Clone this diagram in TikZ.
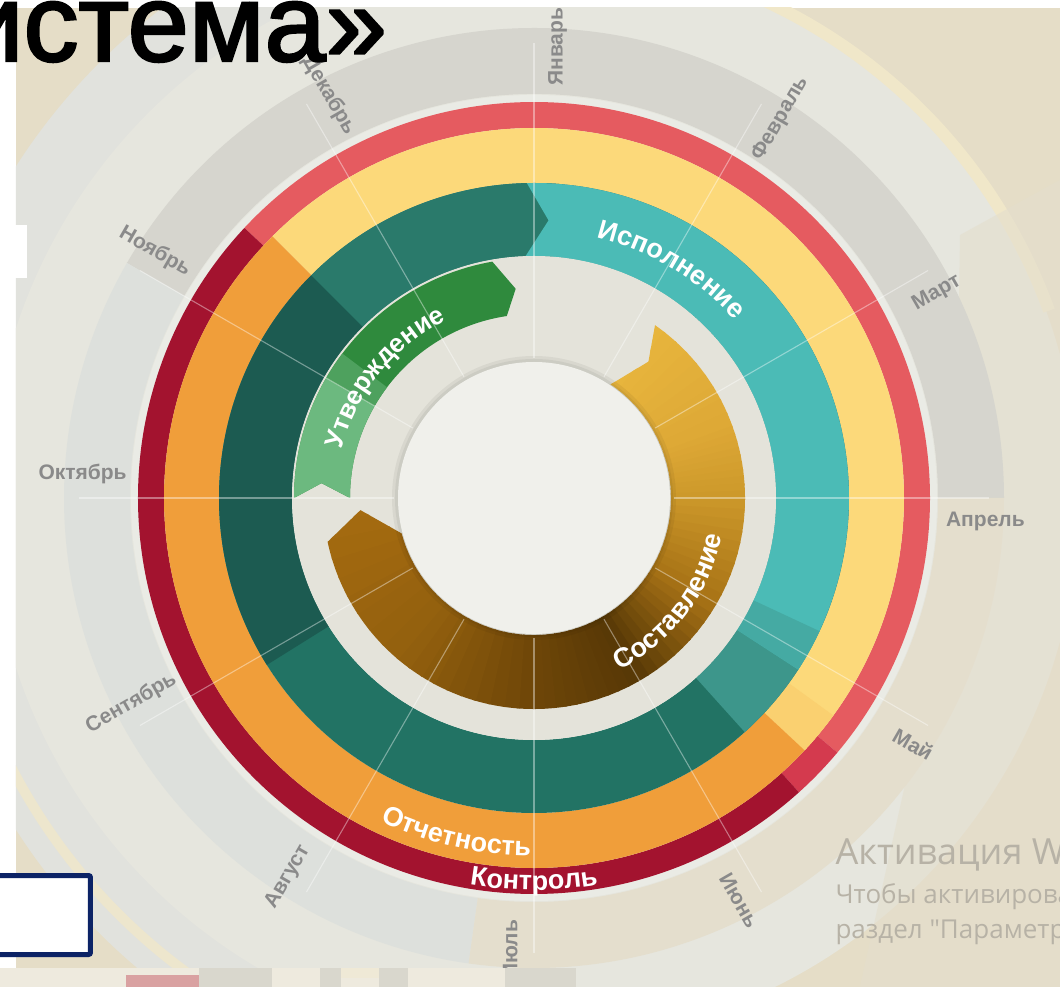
\documentclass[tikz,border=0pt]{standalone}
\usepackage{fontspec}
\setmainfont{Liberation Sans}
\newfontfamily\wmfont{Open Sans}
\newfontfamily\titlefont{Liberation Sans}[FakeBold=2.2]
\usetikzlibrary{decorations.text}

\definecolor{bgbeige}{HTML}{E5DDC7}
\definecolor{bandlight}{HTML}{E6E6DE}
\definecolor{bandgray}{HTML}{D6D5CE}
\definecolor{bandblue}{HTML}{DDE0DC}
\definecolor{bandsand}{HTML}{E4DECD}
\definecolor{gapwhite}{HTML}{EAEBE5}
\definecolor{cream}{HTML}{F0E7C9}
\definecolor{redlight}{HTML}{E55B60}
\definecolor{redmid}{HTML}{D43A4E}
\definecolor{reddark}{HTML}{A3132F}
\definecolor{ringyellow}{HTML}{FCD97A}
\definecolor{ringorange}{HTML}{F09E3A}
\definecolor{tealight}{HTML}{4BBBB6}
\definecolor{tealmid}{HTML}{3D968B}
\definecolor{tealdark}{HTML}{227364}
\definecolor{tealdeep}{HTML}{1C5B51}
\definecolor{tealtop}{HTML}{2A7A6B}
\definecolor{greendark}{HTML}{2F8A3D}
\definecolor{greenlight}{HTML}{6CB97F}
\definecolor{goldA}{HTML}{E9B73E}
\definecolor{goldB}{HTML}{DDA836}
\definecolor{goldC}{HTML}{CC982A}
\definecolor{goldD}{HTML}{A87316}
\definecolor{goldE}{HTML}{573806}
\definecolor{goldF}{HTML}{6E4608}
\definecolor{goldG}{HTML}{93600E}
\definecolor{goldH}{HTML}{A86D10}
\definecolor{discwhite}{HTML}{E4E3DA}
\definecolor{monthgray}{HTML}{8A8A8A}
\definecolor{wmgray}{HTML}{B7B2A6}
\definecolor{boxnavy}{HTML}{0C2366}
\definecolor{stripcream}{HTML}{EEEADE}
\definecolor{stripgray}{HTML}{D9D7CD}
\definecolor{strippink}{HTML}{D9A1A1}
\definecolor{stripsand}{HTML}{EFE9D6}

% ring piece: inner r, outer r, from angle, to angle, colour
\newcommand\ringpart[5]{\fill[#5] (#3:#2) arc[start angle=#3, end angle=#4, radius=#2]
  -- (#4:#1) arc[start angle=#4, end angle=#3, radius=#1] -- cycle;}

\begin{document}
\begin{tikzpicture}[x=1pt, y=1pt,
    month/.style={text=monthgray, font=\bfseries\fontsize{21}{21}\selectfont, inner sep=0pt},
    divider/.style={white, opacity=0.4, line width=1.1pt},
    arctext/.style={decorate, decoration={text along path, text align=center, text={#1}}}]
    % Page
    \useasboundingbox (-534,-489) rectangle (526,498);
    \fill[white] (-534,-489) rectangle (526,498);
    \begin{scope}
    \clip (-518,-489) rectangle (526,490);
    % Background rings
    \fill[bgbeige] (-518,-489) rectangle (526,490);
    \fill[bandblue!60!bandlight] (90:615) arc[start angle=90, end angle=270, radius=615] -- cycle;
    \fill[bandlight] (0,0) circle (545);
    \draw[cream, line width=12pt] (20:548) arc[start angle=20, end angle=84, radius=548];
    \draw[cream, line width=10pt, opacity=0.8] (198:588) arc[start angle=198, end angle=246, radius=588];
    \fill[bandsand, opacity=0.6] (426,263) -- (526,318) -- (526,-489) -- (326,-489) -- (421,-62) -- cycle;
    \ringpart{404}{470}{0}{150}{bandgray}
    \ringpart{404}{470}{150}{262}{bandblue}
    \ringpart{404}{470}{262}{360}{bandsand}
    \fill[gapwhite] (0,0) circle (403);
    % Control ring
    \ringpart{370}{396}{-40}{137}{redlight}
    \ringpart{370}{396}{-48}{-40}{redmid}
    \ringpart{370}{396}{137}{312}{reddark}
    % Reporting ring
    \ringpart{315}{370}{-43}{135}{ringyellow}
    \ringpart{315}{370}{-43}{-36}{ringyellow!85!ringorange}
    \ringpart{315}{370}{135}{317}{ringorange}
    % Execution ring
    \ringpart{242}{315}{0}{360}{tealdark}
    \ringpart{242}{315}{135}{212}{tealdeep}
    \ringpart{242}{315}{85}{135}{tealtop}
    \ringpart{242}{315}{-48}{-33}{tealmid}
    \fill[tealight] (91.3:315) arc[start angle=91.3, end angle=-33, radius=315]
      -- (-33:242) arc[start angle=-33, end angle=92, radius=242] -- (87:278) -- cycle;
    \ringpart{242}{315}{-33}{-25}{tealight!55!tealmid}
    % Inner field
    \fill[discwhite] (0,0) circle (242);
    % Approval arrow
    \begin{scope}
      \clip (180:240) arc[start angle=180, end angle=100, radius=240] -- (95:210)
        -- (98.5:184) arc[start angle=98.5, end angle=180, radius=184] -- (176:213) -- cycle;
      \fill[greendark] (0,0) circle (245);
      \ringpart{180}{245}{150}{185}{greenlight}
      \ringpart{180}{245}{143}{150}{greenlight!50!greendark}
    \end{scope}
    % Drafting arrow
    \begin{scope}
      \clip (55:211) arc[start angle=55, end angle=-168, radius=211] -- (-176:174)
        -- (-165:137) arc[start angle=-165, end angle=56, radius=137] -- (50:178) -- cycle;
      \foreach \sa/\ea/\ca/\cb in {60/20/goldA/goldB, 20/0/goldB/goldC, 0/-30/goldC/goldD,
          -30/-60/goldD/goldE, -60/-90/goldE/goldF, -90/-130/goldF/goldG, -130/-185/goldG/goldH}{
        \foreach \k in {0,...,9}{
          \pgfmathsetmacro\u{\sa+(\ea-\sa)*\k/10}
          \pgfmathsetmacro\v{\sa+(\ea-\sa)*(\k+1)/10-0.6}
          \pgfmathtruncatemacro\p{95-10*\k}
          \fill[\ca!\p!\cb] (0,0) -- (\u:230) arc[start angle=\u, end angle=\v, radius=230] -- cycle;
        }
      }
    \end{scope}
    % Centre disc
    \fill[black, opacity=0.05] (0,0) circle (142);
    \fill[black, opacity=0.05] (0,0) circle (139);
    \fill[discwhite!55!white] (0,0) circle (136);
    % Month dividers
    \foreach \a in {0,30,...,330}
      \draw[divider] (\a:140) -- (\a:455);
    % Phase names
    \path[arctext={|\color{white}\bfseries\fontsize{27}{27}\selectfont|Исполнение}]
      (86:268) arc[start angle=86, end angle=32, radius=268];
    \path[arctext={|\color{white}\bfseries\fontsize{26}{26}\selectfont|Утверждение}]
      (172:198) arc[start angle=172, end angle=110, radius=198];
    \path[arctext={|\color{white}\bfseries\fontsize{27}{27}\selectfont|Составление}]
      (-78:192) arc[start angle=-78, end angle=3, radius=192];
    \path[arctext={|\color{white}\bfseries\fontsize{27}{27}\selectfont|Отчетность}]
      (228:358) arc[start angle=228, end angle=286, radius=358];
    \path[arctext={|\color{white}\bfseries\fontsize{27}{27}\selectfont|Контроль}]
      (248:392) arc[start angle=248, end angle=292, radius=392];
    % Months
    \foreach \a/\m/\n in {90/Январь/jan, 60/Февраль/feb, 30/Март/mar, 0/Апрель/apr,
        -30/Май/may, -60/Июнь/jun, -90/Июль/jul, -120/Август/aug, -150/Сентябрь/sep,
        180/Октябрь/oct, 150/Ноябрь/nov, 120/Декабрь/dec}{
      \pgfmathsetmacro\rot{(\a>-90 && \a<=90) ? \a : \a+180}
      \node[month, rotate=\rot] (\n) at (\a-3:452) {\m};
    }
    % Watermark
    \node[anchor=base west, text=wmgray, font=\wmfont\fontsize{36}{36}\selectfont] (wm1)
      at (298,-366) {Активация Windows};
    \node[anchor=base west, text=wmgray, font=\wmfont\fontsize{26}{26}\selectfont] (wm2)
      at (298,-405) {Чтобы активировать};
    \node[anchor=base west, text=wmgray, font=\wmfont\fontsize{26}{26}\selectfont] (wm3)
      at (298,-440) {раздел \symbol{34}Параметры\symbol{34}};
    \end{scope}
    % Slide overlays
    \node[anchor=base east, inner sep=0pt, font=\titlefont\fontsize{110}{110}\selectfont] (title)
      at (-147,437) {истема»};
    \fill[white] (-534,273) rectangle (-507,220);
    \draw[boxnavy, line width=5pt, fill=white, rounded corners=2pt] (-545,-377.5) rectangle (-443.5,-456.5);
    % Bottom strip
    \fill[stripcream] (-534,-470) rectangle (42,-489);
    \fill[strippink] (-408,-477) rectangle (-283,-489);
    \fill[stripgray] (-335,-470) rectangle (-262,-489);
    \fill[stripgray] (-214,-470) rectangle (-193,-489);
    \fill[stripgray] (-155,-470) rectangle (-126,-489);
    \fill[stripsand] (-193,-470) rectangle (-155,-480);
    \fill[stripgray] (-29,-470) rectangle (42,-489);
\end{tikzpicture}
\end{document}
